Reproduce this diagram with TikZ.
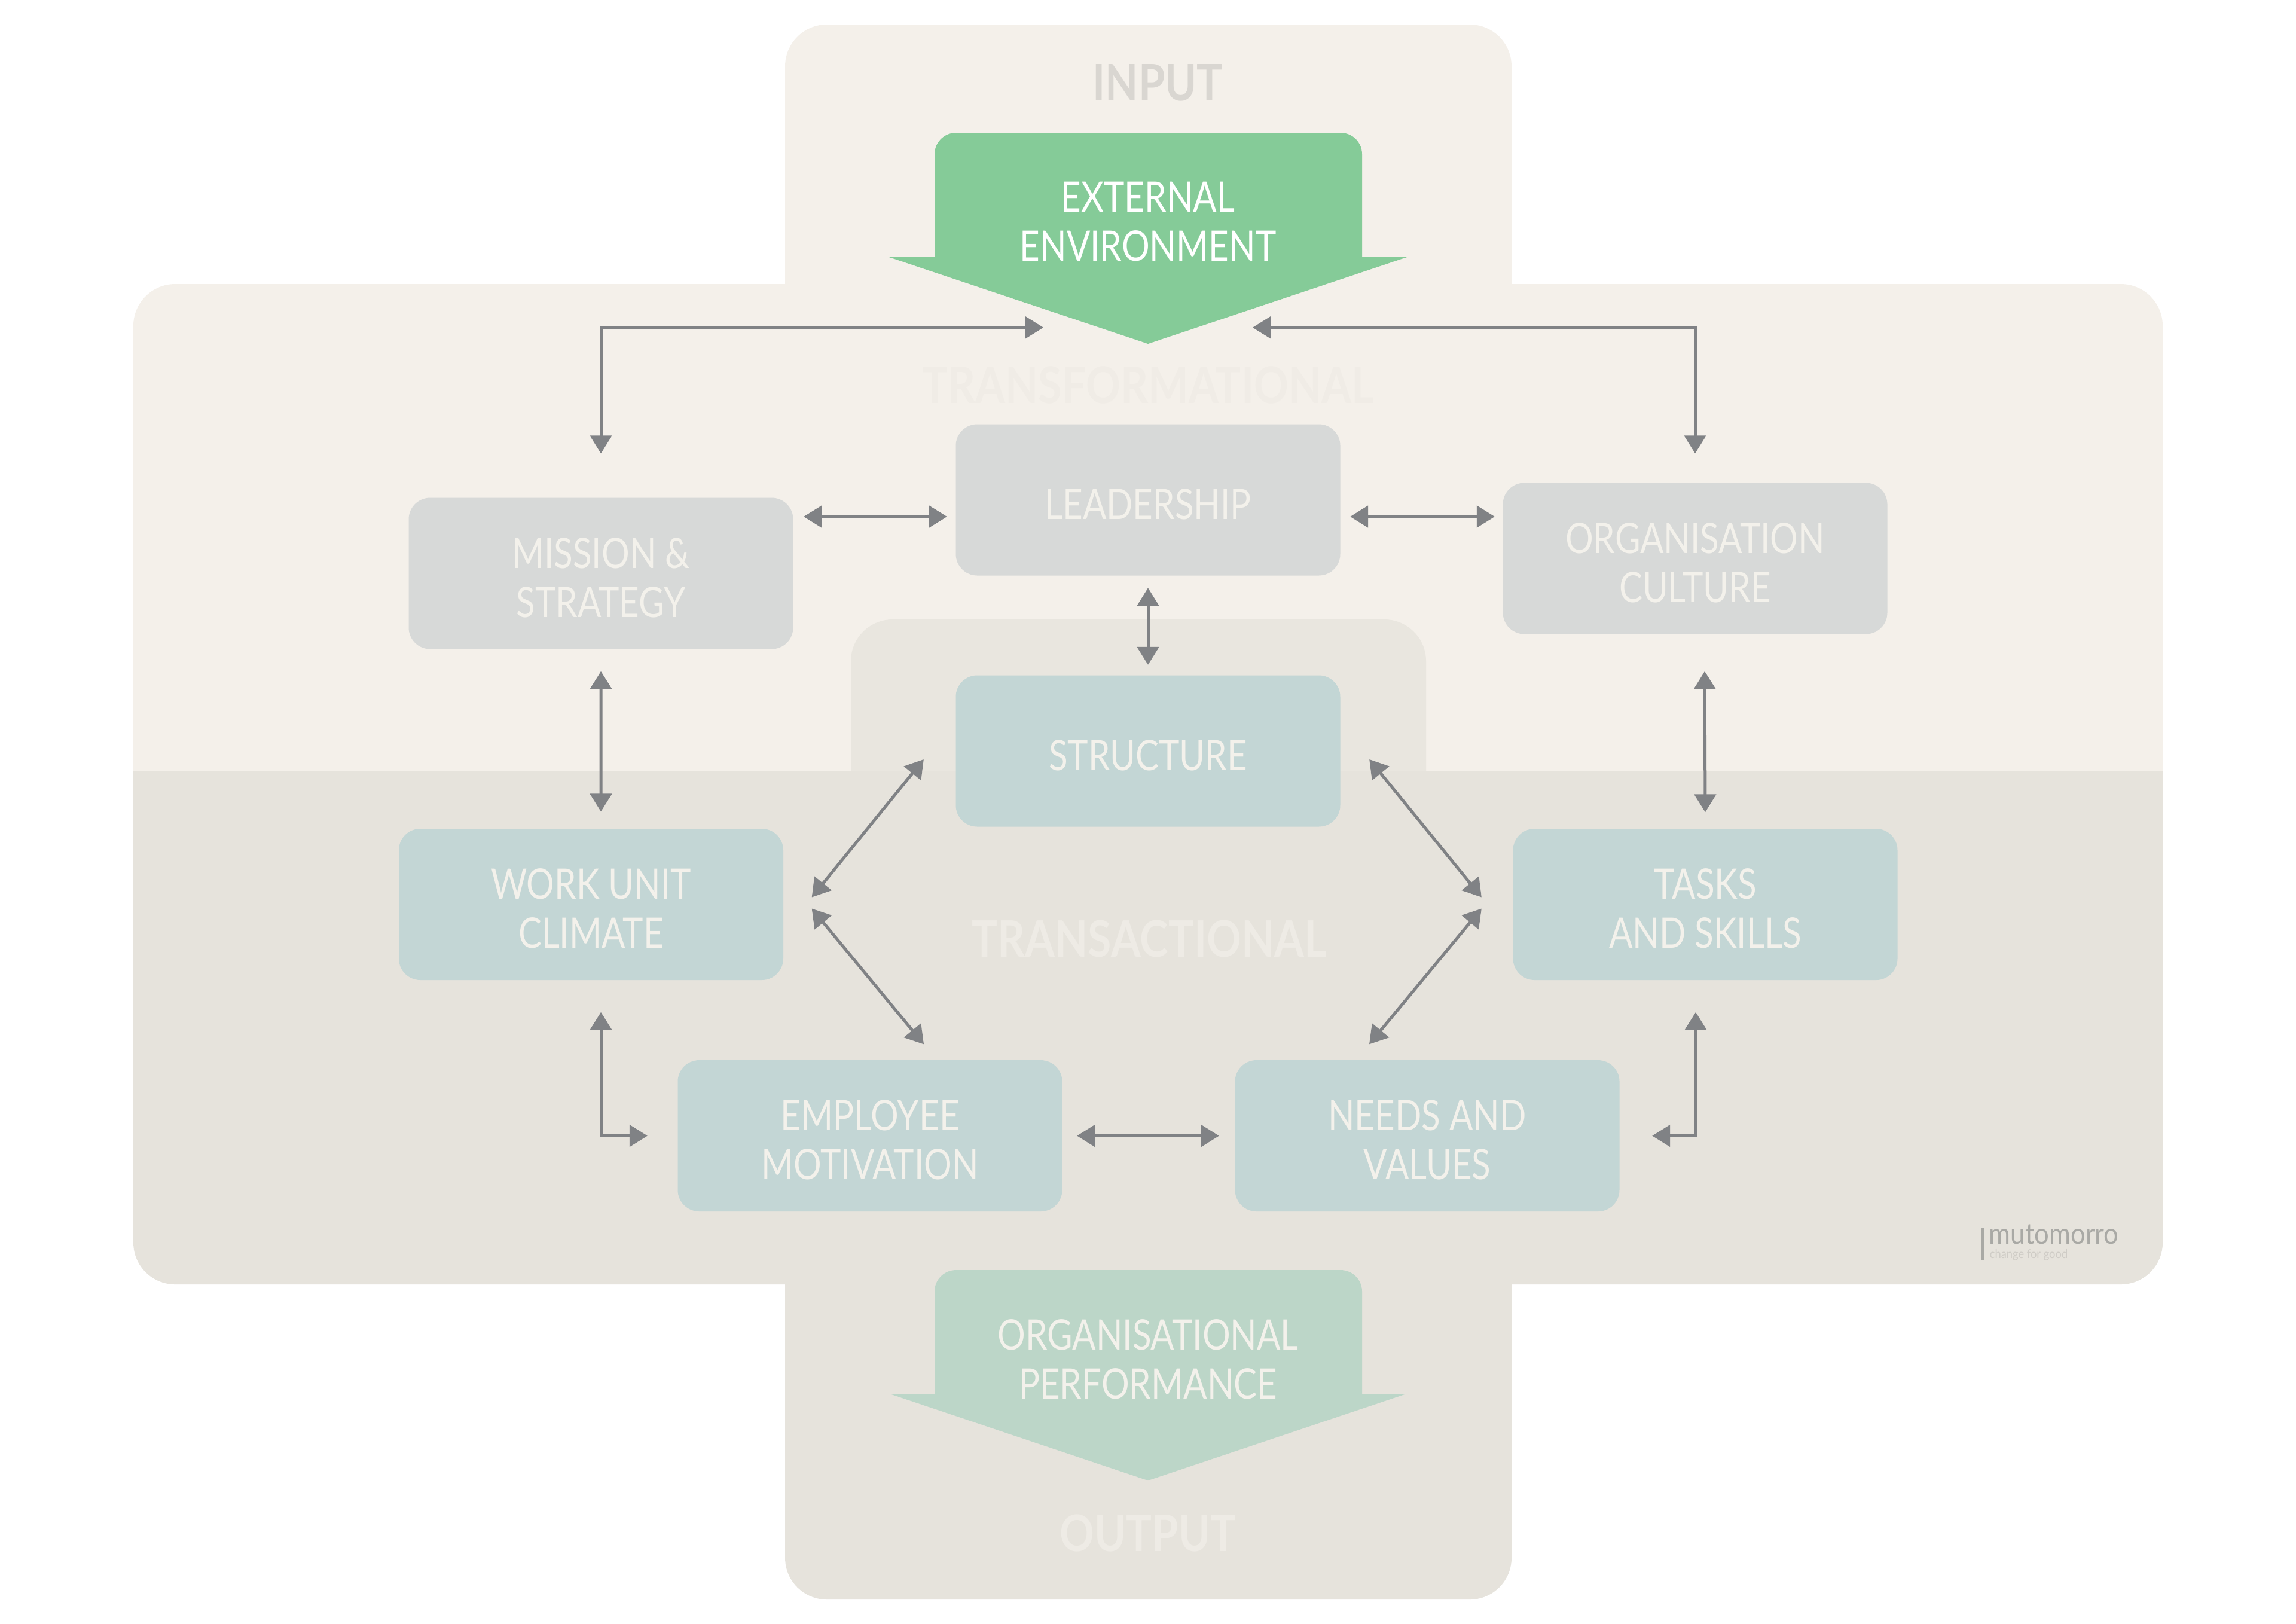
\documentclass[tikz,border=0pt]{standalone}
\usepackage{fontspec}
\setmainfont{Lato}
\newfontfamily\boxfont[FakeStretch=0.83]{Lato}
\newfontfamily\headfont[FakeStretch=0.85]{Lato}
\newfontfamily\logofont[FakeStretch=0.9]{Lato}
\usetikzlibrary{arrows.meta}
\definecolor{panellight}{HTML}{F4F0EA}
\definecolor{paneldark}{HTML}{E6E3DC}
\definecolor{panelmid}{HTML}{E9E6DF}
\definecolor{boxgrey}{HTML}{D7D9D8}
\definecolor{boxteal}{HTML}{C3D6D5}
\definecolor{extgreen}{HTML}{85CB98}
\definecolor{perfgreen}{HTML}{BCD6C8}
\definecolor{linkgrey}{HTML}{808285}
\definecolor{boxtext}{HTML}{F3F1EB}
\definecolor{inputtext}{HTML}{D9D6D1}
\definecolor{topheadtext}{HTML}{F0ECE6}
\definecolor{lowheadtext}{HTML}{EEEBE5}
\definecolor{logotext}{HTML}{A9A9A5}
\definecolor{slogantext}{HTML}{CFCCC6}
\begin{document}
\begin{tikzpicture}[
       box/.style={
         rectangle,
         rounded corners=0.36cm,
         minimum width=6.43cm,
         minimum height=2.53cm,
         inner sep=0pt,
         align=center,
         text=boxtext,
         text height=0.65cm,
         font=\boxfont\fontsize{20}{23.3}\selectfont
       },
       twolines/.style={text height=1.47cm},
       greybox/.style={box,fill=boxgrey},
       tealbox/.style={box,fill=boxteal},
       arrowtext/.style={box,minimum width=7.15cm,minimum height=2.92cm,text height=1.38cm},
       head/.style={font=\headfont\bfseries\fontsize{24}{28}\selectfont},
       link/.style={
         draw=linkgrey,
         line width=0.05cm,
         {Triangle[length=0.3cm,width=0.36cm]}-{Triangle[length=0.3cm,width=0.36cm]}
       }
     ]

       \useasboundingbox (0,0) rectangle (38.4,-27.15);

       % backgrounds
       \fill[panellight,rounded corners=0.7cm] (13.13,-6) -- (13.13,-0.41) -- (25.28,-0.41) -- (25.28,-6) -- cycle;
       \fill[panellight] (2.23,-12.9) [rounded corners=0.7cm] -- (2.23,-4.75) -- (36.17,-4.75) [sharp corners] -- (36.17,-12.9) -- cycle;
       \fill[paneldark] (2.23,-12.9) [rounded corners=0.7cm] -- (2.23,-21.48) -- (36.17,-21.48) [sharp corners] -- (36.17,-12.9) -- cycle;
       \fill[paneldark] (13.13,-20) [rounded corners=0.7cm] -- (13.13,-26.75) -- (25.28,-26.75) [sharp corners] -- (25.28,-20) -- cycle;
       \fill[panelmid] (14.23,-12.9) [rounded corners=0.7cm] -- (14.23,-10.36) -- (23.85,-10.36) [sharp corners] -- (23.85,-12.9) -- cycle;

       % the two big arrows
       \fill[extgreen] (15.63,-4.29) [rounded corners=0.36cm] -- (15.63,-2.22) -- (22.78,-2.22) [sharp corners] -- (22.78,-4.29) -- (23.56,-4.29) -- (19.2,-5.75) -- (14.84,-4.29) -- cycle;
       \fill[perfgreen] (15.63,-23.31) [rounded corners=0.36cm] -- (15.63,-21.24) -- (22.78,-21.24) [sharp corners] -- (22.78,-23.31) -- (23.52,-23.31) -- (19.2,-24.76) -- (14.88,-23.31) -- cycle;

       \node (input) at (19.36,-1.38) [head,text=inputtext]{INPUT};
       \node (transformational) at (19.2,-6.44) [head,text=topheadtext]{TRANSFORMATIONAL};
       \node (transactional) at (19.22,-15.7) [head,text=lowheadtext]{TRANSACTIONAL};
       \node (output) at (19.2,-25.64) [head,text=lowheadtext]{OUTPUT};

       \node (external) at (19.2,-3.68) [arrowtext,text=white]{EXTERNAL\\ENVIRONMENT};
       \node (performance) at (19.2,-22.71) [arrowtext]{ORGANISATIONAL\\PERFORMANCE};

       \node (leadership) at (19.2,-8.36) [greybox]{LEADERSHIP};
       \node (mission) at (10.05,-9.59) [greybox,twolines]{MISSION \&\\STRATEGY};
       \node (culture) at (28.35,-9.34) [greybox,twolines]{ORGANISATION\\CULTURE};
       \node (structure) at (19.2,-12.56) [tealbox]{STRUCTURE};
       \node (workunit) at (9.885,-15.125) [tealbox,twolines]{WORK UNIT\\CLIMATE};
       \node (tasks) at (28.52,-15.125) [tealbox,twolines]{TASKS\\AND SKILLS};
       \node (employee) at (14.55,-18.995) [tealbox,twolines]{EMPLOYEE\\MOTIVATION};
       \node (needs) at (23.87,-18.995) [tealbox,twolines]{NEEDS AND\\VALUES};

       \draw[link] ([shift={(0,0.735)}]mission.north) |- ([shift={(-1.75,-0.33)}]external.south);
       \draw[link] ([shift={(0,0.485)}]culture.north) |- ([shift={(1.75,-0.33)}]external.south);

       \draw[link] ([shift={(0.17,0.95)}]mission.east) -- ([shift={(-0.14,-0.28)}]leadership.west);
       \draw[link] ([shift={(0.16,-0.28)}]leadership.east) -- ([shift={(-0.13,0.7)}]culture.west);
       \draw[link] ([shift={(0,-0.2)}]leadership.south) -- ([shift={(0,0.17)}]structure.north);

       \draw[link] ([shift={(0,-0.365)}]mission.south) -- ([shift={(0.165,0.28)}]workunit.north);
       \draw[link] ([shift={(0.16,-0.615)}]culture.south) -- ([shift={(0,0.27)}]tasks.north);

       \draw[link] ([shift={(-0.53,-0.14)}]structure.west) -- ([shift={(0.47,0.12)}]workunit.east);
       \draw[link] ([shift={(0.47,-0.07)}]workunit.east) -- ([shift={(0.9,0.26)}]employee.north);
       \draw[link] ([shift={(0.48,-0.14)}]structure.east) -- ([shift={(-0.52,0.12)}]tasks.west);
       \draw[link] ([shift={(-0.52,-0.07)}]tasks.west) -- ([shift={(-0.97,0.26)}]needs.north);

       \draw[link] ([shift={(0.165,-0.53)}]workunit.south) |- ([shift={(-0.5,0)}]employee.west);
       \draw[link] ([shift={(0.24,0)}]employee.east) -- ([shift={(-0.26,0)}]needs.west);
       \draw[link] ([shift={(0.54,0)}]needs.east) -| ([shift={(-0.16,-0.53)}]tasks.south);

       % logo
       \fill[logotext] (33.14,-20.53) rectangle (33.18,-21.07);
       \node (logo) at (33.26,-20.8) [anchor=base west,inner sep=0pt,text=logotext,font=\logofont\fontsize{13.8}{14}\selectfont]{mutomorro};
       \node (slogan) at (33.27,-21.04) [anchor=base west,inner sep=0pt,text=slogantext,font=\logofont\fontsize{5.8}{6}\selectfont]{change for good};

\end{tikzpicture}
\end{document}
